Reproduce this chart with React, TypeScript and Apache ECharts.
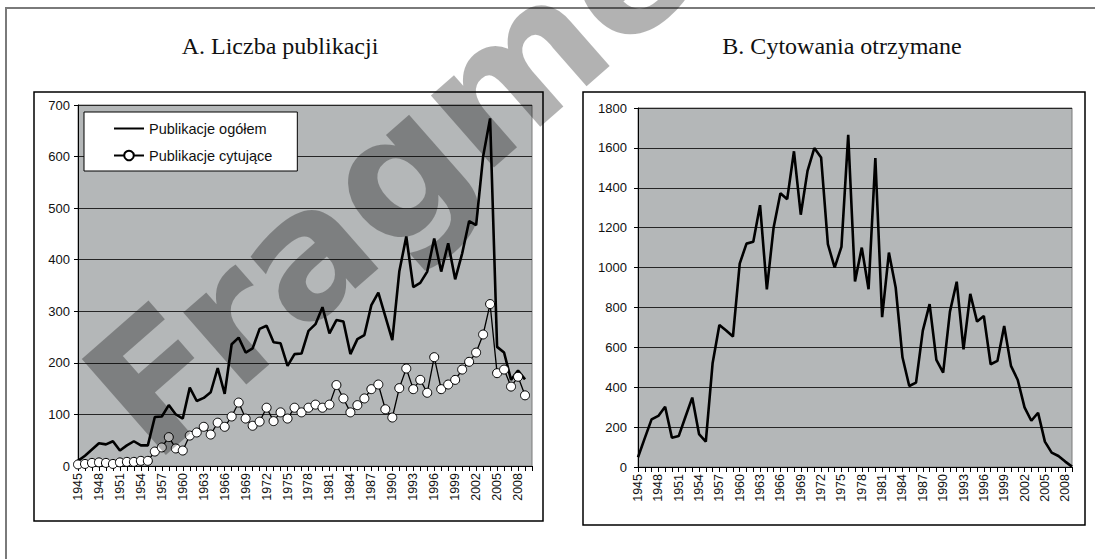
import React, { useEffect, useRef } from "react";
import * as echarts from "echarts";

const years = [
  1945, 1946, 1947, 1948, 1949, 1950, 1951, 1952, 1953, 1954,
  1955, 1956, 1957, 1958, 1959, 1960, 1961, 1962, 1963, 1964,
  1965, 1966, 1967, 1968, 1969, 1970, 1971, 1972, 1973, 1974,
  1975, 1976, 1977, 1978, 1979, 1980, 1981, 1982, 1983, 1984,
  1985, 1986, 1987, 1988, 1989, 1990, 1991, 1992, 1993, 1994,
  1995, 1996, 1997, 1998, 1999, 2000, 2001, 2002, 2003, 2004,
  2005, 2006, 2007, 2008, 2009,
];

const publikacjeOgolem = [
  10, 20, 32, 44, 42, 48, 30, 40, 48, 40,
  40, 95, 96, 118, 100, 92, 152, 126, 132, 143,
  190, 140, 236, 249, 220, 228, 266, 272, 240, 238,
  194, 217, 218, 262, 275, 308, 257, 283, 280, 217,
  246, 254, 312, 336, 290, 244, 377, 445, 347, 355,
  377, 441, 377, 432, 362, 412, 475, 467, 600, 674,
  231, 220, 167, 185, 168,
];

const publikacjeCytujace = [
  3, 4, 6, 7, 6, 4, 7, 8, 8, 10,
  10, 28, 36, 56, 34, 30, 59, 65, 76, 61,
  84, 76, 96, 123, 92, 78, 86, 113, 87, 104,
  92, 113, 104, 113, 119, 113, 119, 157, 131, 104,
  118, 131, 149, 158, 110, 94, 151, 189, 149, 167,
  142, 211, 149, 158, 167, 187, 202, 220, 255, 314,
  180, 187, 154, 173, 137,
];

const cytowania = [
  49, 145, 239, 256, 302, 147, 155, 252, 348, 165,
  127, 520, 712, 684, 654, 1020, 1120, 1129, 1313, 891,
  1201, 1372, 1343, 1583, 1265, 1485, 1599, 1552, 1117, 1000,
  1104, 1665, 930, 1100, 891, 1549, 751, 1075, 900, 550,
  406, 423, 684, 817, 537, 473, 779, 929, 590, 868,
  729, 757, 515, 532, 707, 507, 436, 299, 232, 272,
  127, 72, 55, 27, 2,
];

const titleA = "A. Liczba publikacji";
const titleB = "B. Cytowania otrzymane";
const legendNames = ["Publikacje ogółem", "Publikacje cytujące"];
const watermark = "Fragment";

const FIRST_YEAR = 1945;
const LABEL_STEP = 3;

const sans = "Liberation Sans";

function pairs(vals: number[]) {
  return years.map((y, i) => [y, vals[i]]);
}

function xAxisCfg(gridIndex: number, max: number) {
  return {
    type: "value",
    gridIndex,
    min: FIRST_YEAR,
    max,
    interval: 1,
    axisLine: { show: true, lineStyle: { color: "#000", width: 1 } },
    axisTick: { show: true, length: 5, lineStyle: { color: "#000", width: 1 } },
    splitLine: { show: false },
    axisLabel: {
      rotate: 90,
      margin: 7,
      fontFamily: sans,
      fontSize: 12.5,
      color: "#111",
      formatter: (v: number) =>
        (v - FIRST_YEAR) % LABEL_STEP === 0 && v <= 2008 ? String(v) : "",
    },
  };
}

function yAxisCfg(gridIndex: number, max: number, interval: number, margin: number) {
  return {
    type: "value",
    gridIndex,
    min: 0,
    max,
    interval,
    axisLine: { show: true, lineStyle: { color: "#000", width: 1 } },
    axisTick: { show: true, length: 4, lineStyle: { color: "#000", width: 1 } },
    splitLine: { show: true, lineStyle: { color: "#262626", width: 1 } },
    axisLabel: {
      margin,
      fontFamily: sans,
      fontSize: 13,
      color: "#111",
      formatter: (v: number) => String(v),
    },
  };
}

export default function App() {
  const ref = useRef<HTMLDivElement>(null);

  useEffect(() => {
    if (!ref.current) return;
    const chart = echarts.init(ref.current, null, { renderer: "svg" });
    const plotBg = "#b4b7b8";
    chart.setOption({
      animation: false,
      backgroundColor: "#fff",
      grid: [
        {
          left: 78,
          top: 105,
          width: 454,
          height: 361,
          show: true,
          backgroundColor: plotBg,
          borderColor: "#7a7a7a",
          borderWidth: 1,
        },
        {
          left: 638,
          top: 108,
          width: 434,
          height: 359,
          show: true,
          backgroundColor: plotBg,
          borderColor: "#7a7a7a",
          borderWidth: 1,
        },
      ],
      xAxis: [xAxisCfg(0, 2010), xAxisCfg(1, 2009)],
      yAxis: [yAxisCfg(0, 700, 100, 8), yAxisCfg(1, 1800, 200, 11)],
      legend: {
        left: 84,
        top: 112,
        orient: "vertical",
        backgroundColor: "#fff",
        borderColor: "#000",
        borderWidth: 1,
        borderRadius: 0,
        padding: [9, 25, 8, 29],
        itemGap: 12,
        itemWidth: 30,
        itemHeight: 12,
        textStyle: { fontFamily: sans, fontSize: 14.5, color: "#111" },
        data: [
          { name: legendNames[0], itemStyle: { color: "rgba(0,0,0,0)", borderWidth: 0, opacity: 0 } },
          { name: legendNames[1] },
        ],
      },
      series: [
        {
          name: legendNames[0],
          type: "line",
          xAxisIndex: 0,
          yAxisIndex: 0,
          data: pairs(publikacjeOgolem),
          symbol: "none",
          lineStyle: { color: "#000", width: 2.6 },
          itemStyle: { color: "rgba(0,0,0,0)", borderWidth: 0 },
          z: 3,
        },
        {
          name: legendNames[1],
          type: "line",
          xAxisIndex: 0,
          yAxisIndex: 0,
          data: pairs(publikacjeCytujace),
          symbol: "circle",
          symbolSize: 9,
          showAllSymbol: true,
          lineStyle: { color: "#000", width: 1.3 },
          itemStyle: { color: "#fff", borderColor: "#000", borderWidth: 1 },
          z: 4,
        },
        {
          name: "Cytowania",
          type: "line",
          xAxisIndex: 1,
          yAxisIndex: 1,
          data: pairs(cytowania),
          symbol: "none",
          lineStyle: { color: "#000", width: 2.6 },
          itemStyle: { color: "#000" },
        },
      ],
      graphic: [
        {
          type: "rect",
          shape: { x: 6, y: 8, width: 1300, height: 800 },
          style: { fill: "none", stroke: "#7a7a7a", lineWidth: 2 },
          silent: true,
        },
        {
          type: "rect",
          shape: { x: 34, y: 92, width: 509, height: 429 },
          style: { fill: "none", stroke: "#000", lineWidth: 1.5 },
          silent: true,
        },
        {
          type: "rect",
          shape: { x: 583, y: 92, width: 502, height: 433 },
          style: { fill: "none", stroke: "#000", lineWidth: 1.5 },
          silent: true,
        },
        {
          type: "text",
          x: 280,
          y: 46,
          style: {
            text: titleA,
            font: '24px "Liberation Serif"',
            fill: "#111",
            textAlign: "center",
            textVerticalAlign: "middle",
            align: "center",
            verticalAlign: "middle",
          },
          silent: true,
        },
        {
          type: "text",
          x: 842,
          y: 46,
          style: {
            text: titleB,
            font: '24px "Liberation Serif"',
            fill: "#111",
            textAlign: "center",
            textVerticalAlign: "middle",
            align: "center",
            verticalAlign: "middle",
          },
          silent: true,
        },
        {
          type: "text",
          x: 470,
          y: 108,
          rotation: 0.72,
          z: 100,
          style: {
            text: watermark,
            font: 'bold 175px "DejaVu Sans"',
            fill: "rgba(0,0,0,0.3)",
            textAlign: "center",
            textVerticalAlign: "middle",
            align: "center",
            verticalAlign: "middle",
          },
          silent: true,
        },
      ],
    });
    return () => chart.dispose();
  }, []);

  return (
    <div
      ref={ref}
      style={{ position: "fixed", left: 0, top: 0, width: 1095, height: 559 }}
    />
  );
}
